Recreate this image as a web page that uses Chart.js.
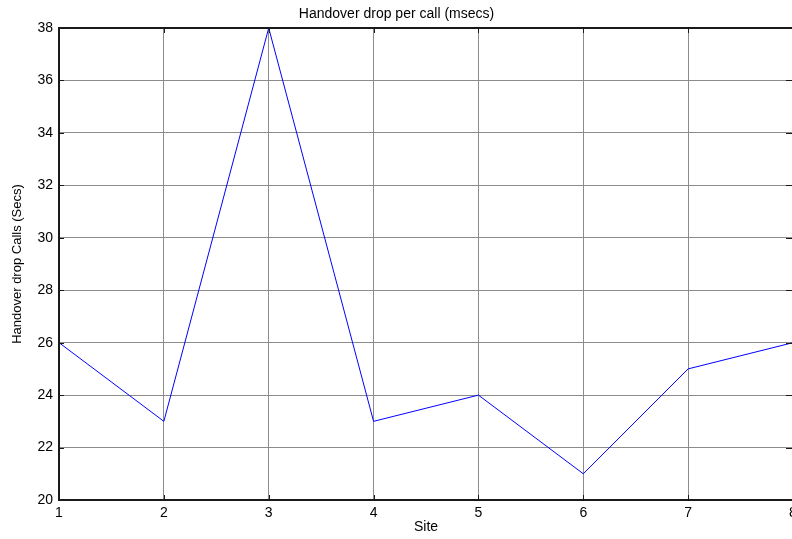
<!DOCTYPE html>
<html>
<head>
<meta charset="utf-8">
<script src="https://cdn.jsdelivr.net/npm/chart.js@4"></script>
<style>
    html, body { margin: 0; padding: 0; background: #fff; overflow: hidden; }
    #wrap { width: 792px; height: 539px; overflow: hidden; }
</style>
</head>
<body>
<div id="wrap"><canvas id="c1" width="794" height="539"></canvas></div>
<script>
// data
const sites = ['1', '2', '3', '4', '5', '6', '7', '8'];
const dropSecs = [26, 23, 38, 23, 24, 21, 25, 26];
const yTicks = [20, 22, 24, 26, 28, 30, 32, 34, 36, 38];

const font = 'Arial, "Liberation Sans", Helvetica, sans-serif';

// box round the axes + little inward tick marks (matlab style)
const axesBox = {
    id: 'axesBox',
    afterDatasetsDraw: (chart) => {
        const { ctx, chartArea: a, scales } = chart;
        ctx.save();
        ctx.strokeStyle = '#1a1a1a';
        ctx.lineWidth = 1;
        sites.forEach((s, i) => {
            const x = Math.round(scales.x.getPixelForValue(i)) + 0.5;
            ctx.beginPath();
            ctx.moveTo(x, a.bottom); ctx.lineTo(x, a.bottom - 5);
            ctx.moveTo(x, a.top); ctx.lineTo(x, a.top + 5);
            ctx.stroke();
        });
        yTicks.forEach(v => {
            const y = Math.round(scales.y.getPixelForValue(v)) + 0.5;
            ctx.beginPath();
            ctx.moveTo(a.left, y); ctx.lineTo(a.left + 5, y);
            ctx.moveTo(a.right, y); ctx.lineTo(a.right - 7, y);
            ctx.stroke();
        });
        ctx.lineWidth = 2;
        ctx.strokeRect(a.left, a.top, a.right - a.left, a.bottom - a.top);
        ctx.restore();
    }
};

new Chart(document.getElementById('c1').getContext('2d'), {
    type: 'line',
    data: {
        labels: sites,
        datasets: [{
            data: dropSecs,
            borderColor: '#0000ff',
            borderWidth: 1,
            pointRadius: 0,
            tension: 0,
            fill: false
        }]
    },
    options: {
        responsive: false,
        animation: false,
        layout: { padding: { left: 0, right: 1, top: 0, bottom: 0 } },
        plugins: {
            legend: { display: false },
            tooltip: { enabled: false },
            title: {
                display: true,
                text: 'Handover drop per call (msecs)',
                color: '#000',
                font: { family: font, size: 14, weight: 'normal' },
                padding: { top: 5.6, bottom: 5.6 }
            }
        },
        scales: {
            x: {
                offset: false,
                grid: { color: '#8c8c8c', lineWidth: 1, drawTicks: false, offset: false },
                border: { display: false },
                ticks: { color: '#000', font: { family: font, size: 14 }, padding: 5, maxRotation: 0, autoSkip: false },
                title: { display: true, text: 'Site', color: '#000', font: { family: font, size: 14 }, padding: { top: 0, bottom: 3.6 } },
                afterFit: (s) => { s.height = 39; s.paddingLeft = 0; s.paddingRight = 0; }
            },
            y: {
                min: 20,
                max: 38,
                grid: { color: '#8c8c8c', lineWidth: 1, drawTicks: false },
                border: { display: false },
                ticks: { stepSize: 2, color: '#000', font: { family: font, size: 14 }, padding: 6 },
                title: { display: true, text: 'Handover drop Calls (Secs)', color: '#000', font: { family: font, size: 13 }, padding: { top: 10, bottom: 0 } },
                afterFit: (s) => { s.width = 59; s.paddingTop = 0; s.paddingBottom = 0; }
            }
        }
    },
    plugins: [axesBox]
});
</script>
</body>
</html>
